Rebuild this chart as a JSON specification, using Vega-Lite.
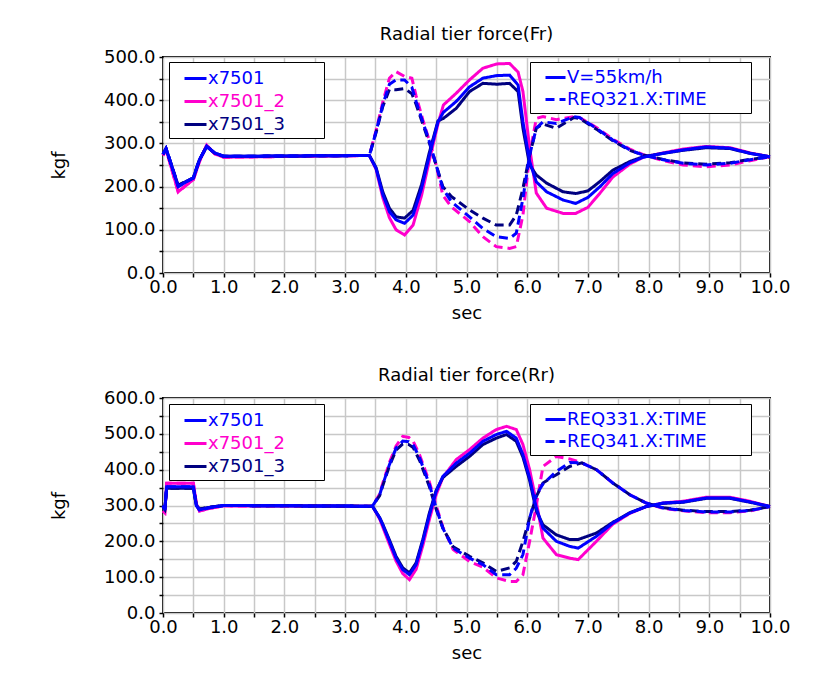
{
"$schema":"https://vega.github.io/schema/vega-lite/v6.json",
"background":"white",
"padding":{"left":49,"top":25,"right":0,"bottom":0},
"config":{
 "font":"DejaVu Sans",
 "view":{"stroke":"black","strokeWidth":2},
 "axis":{"labelFont":"DejaVu Sans","labelFontSize":18,"labelColor":"black","titleFont":"DejaVu Sans","titleFontSize":18,"titleFontWeight":"normal","titleColor":"black","gridColor":"#c8c8c8","gridWidth":1.5,"domain":false,"tickColor":"black","tickWidth":1.5,"tickSize":4,"labelFlush":false,"labelOverlap":false},
 "title":{"font":"DejaVu Sans","fontSize":18,"fontWeight":"normal","color":"black","anchor":"middle","offset":4},
 "legend":{"labelFont":"DejaVu Sans","labelFontSize":18,"fillColor":"white","strokeColor":"black","padding":4,"title":null,"labelLimit":400},
 "concat":{"spacing":43}
},
"datasets":{
"fr":[
{"c":"x7501_2","w":"L","t":0,"v":272},{"c":"x7501_2","w":"L","t":0.05,"v":286},{"c":"x7501_2","w":"L","t":0.12,"v":252},{"c":"x7501_2","w":"L","t":0.25,"v":188},{"c":"x7501_2","w":"L","t":0.38,"v":203},{"c":"x7501_2","w":"L","t":0.5,"v":216},{"c":"x7501_2","w":"L","t":0.6,"v":258},{"c":"x7501_2","w":"L","t":0.72,"v":296},{"c":"x7501_2","w":"L","t":0.85,"v":276},{"c":"x7501_2","w":"L","t":1,"v":268},
{"c":"x7501_2","w":"L","t":3.4,"v":272},{"c":"x7501_2","w":"L","t":3.51,"v":240},{"c":"x7501_2","w":"L","t":3.62,"v":175},{"c":"x7501_2","w":"L","t":3.73,"v":128},{"c":"x7501_2","w":"L","t":3.84,"v":100},{"c":"x7501_2","w":"L","t":3.98,"v":88},{"c":"x7501_2","w":"L","t":4.12,"v":111},{"c":"x7501_2","w":"L","t":4.26,"v":180},{"c":"x7501_2","w":"L","t":4.39,"v":262},{"c":"x7501_2","w":"L","t":4.53,"v":345},{"c":"x7501_2","w":"L","t":4.62,"v":389},{"c":"x7501_2","w":"L","t":4.83,"v":416},{"c":"x7501_2","w":"L","t":5.05,"v":447},{"c":"x7501_2","w":"L","t":5.27,"v":474},{"c":"x7501_2","w":"L","t":5.5,"v":484},{"c":"x7501_2","w":"L","t":5.71,"v":485},{"c":"x7501_2","w":"L","t":5.85,"v":465},{"c":"x7501_2","w":"L","t":5.93,"v":420},{"c":"x7501_2","w":"L","t":6.04,"v":290},{"c":"x7501_2","w":"L","t":6.15,"v":185},{"c":"x7501_2","w":"L","t":6.32,"v":150},{"c":"x7501_2","w":"L","t":6.59,"v":138},{"c":"x7501_2","w":"L","t":6.8,"v":138},{"c":"x7501_2","w":"L","t":7,"v":152},{"c":"x7501_2","w":"L","t":7.2,"v":185},{"c":"x7501_2","w":"L","t":7.41,"v":222},{"c":"x7501_2","w":"L","t":7.69,"v":252},{"c":"x7501_2","w":"L","t":7.91,"v":268},{"c":"x7501_2","w":"L","t":8.24,"v":278},{"c":"x7501_2","w":"L","t":8.57,"v":287},{"c":"x7501_2","w":"L","t":8.95,"v":293},{"c":"x7501_2","w":"L","t":9.34,"v":290},{"c":"x7501_2","w":"L","t":9.67,"v":278},{"c":"x7501_2","w":"L","t":10,"v":269},
{"c":"x7501_2","w":"R","t":0,"v":272},{"c":"x7501_2","w":"R","t":0.05,"v":286},{"c":"x7501_2","w":"R","t":0.12,"v":252},{"c":"x7501_2","w":"R","t":0.25,"v":188},{"c":"x7501_2","w":"R","t":0.38,"v":203},{"c":"x7501_2","w":"R","t":0.5,"v":216},{"c":"x7501_2","w":"R","t":0.6,"v":258},{"c":"x7501_2","w":"R","t":0.72,"v":296},{"c":"x7501_2","w":"R","t":0.85,"v":276},{"c":"x7501_2","w":"R","t":1,"v":268},
{"c":"x7501_2","w":"R","t":3.4,"v":272},{"c":"x7501_2","w":"R","t":3.51,"v":330},{"c":"x7501_2","w":"R","t":3.62,"v":395},{"c":"x7501_2","w":"R","t":3.73,"v":451},{"c":"x7501_2","w":"R","t":3.84,"v":466},{"c":"x7501_2","w":"R","t":3.98,"v":455},{"c":"x7501_2","w":"R","t":4.1,"v":451},{"c":"x7501_2","w":"R","t":4.17,"v":410},{"c":"x7501_2","w":"R","t":4.28,"v":355},{"c":"x7501_2","w":"R","t":4.39,"v":305},{"c":"x7501_2","w":"R","t":4.5,"v":250},{"c":"x7501_2","w":"R","t":4.61,"v":180},{"c":"x7501_2","w":"R","t":4.75,"v":153},{"c":"x7501_2","w":"R","t":5.05,"v":119},{"c":"x7501_2","w":"R","t":5.27,"v":84},{"c":"x7501_2","w":"R","t":5.49,"v":61},{"c":"x7501_2","w":"R","t":5.71,"v":57},{"c":"x7501_2","w":"R","t":5.82,"v":61},{"c":"x7501_2","w":"R","t":5.93,"v":134},{"c":"x7501_2","w":"R","t":6.04,"v":273},{"c":"x7501_2","w":"R","t":6.15,"v":358},{"c":"x7501_2","w":"R","t":6.26,"v":362},{"c":"x7501_2","w":"R","t":6.48,"v":355},{"c":"x7501_2","w":"R","t":6.77,"v":362},{"c":"x7501_2","w":"R","t":6.86,"v":360},{"c":"x7501_2","w":"R","t":7.14,"v":337},{"c":"x7501_2","w":"R","t":7.41,"v":310},{"c":"x7501_2","w":"R","t":7.69,"v":287},{"c":"x7501_2","w":"R","t":7.91,"v":274},{"c":"x7501_2","w":"R","t":8.24,"v":260},{"c":"x7501_2","w":"R","t":8.57,"v":250},{"c":"x7501_2","w":"R","t":8.95,"v":246},{"c":"x7501_2","w":"R","t":9.34,"v":250},{"c":"x7501_2","w":"R","t":9.67,"v":260},{"c":"x7501_2","w":"R","t":10,"v":269},
{"c":"x7501_3","w":"L","t":0,"v":275},{"c":"x7501_3","w":"L","t":0.05,"v":288},{"c":"x7501_3","w":"L","t":0.12,"v":258},{"c":"x7501_3","w":"L","t":0.25,"v":203},{"c":"x7501_3","w":"L","t":0.38,"v":212},{"c":"x7501_3","w":"L","t":0.5,"v":220},{"c":"x7501_3","w":"L","t":0.6,"v":262},{"c":"x7501_3","w":"L","t":0.72,"v":293},{"c":"x7501_3","w":"L","t":0.85,"v":278},{"c":"x7501_3","w":"L","t":1,"v":270},
{"c":"x7501_3","w":"L","t":3.4,"v":272},{"c":"x7501_3","w":"L","t":3.51,"v":244},{"c":"x7501_3","w":"L","t":3.62,"v":188},{"c":"x7501_3","w":"L","t":3.73,"v":150},{"c":"x7501_3","w":"L","t":3.84,"v":130},{"c":"x7501_3","w":"L","t":3.98,"v":127},{"c":"x7501_3","w":"L","t":4.12,"v":145},{"c":"x7501_3","w":"L","t":4.26,"v":205},{"c":"x7501_3","w":"L","t":4.39,"v":280},{"c":"x7501_3","w":"L","t":4.53,"v":352},{"c":"x7501_3","w":"L","t":4.62,"v":358},{"c":"x7501_3","w":"L","t":4.83,"v":381},{"c":"x7501_3","w":"L","t":5.05,"v":420},{"c":"x7501_3","w":"L","t":5.27,"v":439},{"c":"x7501_3","w":"L","t":5.5,"v":437},{"c":"x7501_3","w":"L","t":5.71,"v":439},{"c":"x7501_3","w":"L","t":5.85,"v":420},{"c":"x7501_3","w":"L","t":5.93,"v":335},{"c":"x7501_3","w":"L","t":6.04,"v":250},{"c":"x7501_3","w":"L","t":6.15,"v":227},{"c":"x7501_3","w":"L","t":6.32,"v":208},{"c":"x7501_3","w":"L","t":6.59,"v":188},{"c":"x7501_3","w":"L","t":6.8,"v":184},{"c":"x7501_3","w":"L","t":7,"v":190},{"c":"x7501_3","w":"L","t":7.2,"v":212},{"c":"x7501_3","w":"L","t":7.41,"v":238},{"c":"x7501_3","w":"L","t":7.69,"v":258},{"c":"x7501_3","w":"L","t":7.91,"v":269},{"c":"x7501_3","w":"L","t":8.24,"v":277},{"c":"x7501_3","w":"L","t":8.57,"v":284},{"c":"x7501_3","w":"L","t":8.95,"v":290},{"c":"x7501_3","w":"L","t":9.34,"v":288},{"c":"x7501_3","w":"L","t":9.67,"v":277},{"c":"x7501_3","w":"L","t":10,"v":269},
{"c":"x7501_3","w":"R","t":0,"v":275},{"c":"x7501_3","w":"R","t":0.05,"v":288},{"c":"x7501_3","w":"R","t":0.12,"v":258},{"c":"x7501_3","w":"R","t":0.25,"v":203},{"c":"x7501_3","w":"R","t":0.38,"v":212},{"c":"x7501_3","w":"R","t":0.5,"v":220},{"c":"x7501_3","w":"R","t":0.6,"v":262},{"c":"x7501_3","w":"R","t":0.72,"v":293},{"c":"x7501_3","w":"R","t":0.85,"v":278},{"c":"x7501_3","w":"R","t":1,"v":270},
{"c":"x7501_3","w":"R","t":3.4,"v":272},{"c":"x7501_3","w":"R","t":3.51,"v":325},{"c":"x7501_3","w":"R","t":3.62,"v":385},{"c":"x7501_3","w":"R","t":3.73,"v":425},{"c":"x7501_3","w":"R","t":3.84,"v":424},{"c":"x7501_3","w":"R","t":3.98,"v":427},{"c":"x7501_3","w":"R","t":4.1,"v":415},{"c":"x7501_3","w":"R","t":4.17,"v":390},{"c":"x7501_3","w":"R","t":4.28,"v":345},{"c":"x7501_3","w":"R","t":4.39,"v":300},{"c":"x7501_3","w":"R","t":4.5,"v":250},{"c":"x7501_3","w":"R","t":4.61,"v":200},{"c":"x7501_3","w":"R","t":4.75,"v":177},{"c":"x7501_3","w":"R","t":5.05,"v":146},{"c":"x7501_3","w":"R","t":5.27,"v":127},{"c":"x7501_3","w":"R","t":5.49,"v":111},{"c":"x7501_3","w":"R","t":5.71,"v":111},{"c":"x7501_3","w":"R","t":5.82,"v":134},{"c":"x7501_3","w":"R","t":5.93,"v":196},{"c":"x7501_3","w":"R","t":6.04,"v":273},{"c":"x7501_3","w":"R","t":6.15,"v":335},{"c":"x7501_3","w":"R","t":6.26,"v":345},{"c":"x7501_3","w":"R","t":6.48,"v":335},{"c":"x7501_3","w":"R","t":6.77,"v":360},{"c":"x7501_3","w":"R","t":6.86,"v":358},{"c":"x7501_3","w":"R","t":7.14,"v":333},{"c":"x7501_3","w":"R","t":7.41,"v":306},{"c":"x7501_3","w":"R","t":7.69,"v":284},{"c":"x7501_3","w":"R","t":7.91,"v":273},{"c":"x7501_3","w":"R","t":8.24,"v":263},{"c":"x7501_3","w":"R","t":8.57,"v":255},{"c":"x7501_3","w":"R","t":8.95,"v":252},{"c":"x7501_3","w":"R","t":9.34,"v":255},{"c":"x7501_3","w":"R","t":9.67,"v":263},{"c":"x7501_3","w":"R","t":10,"v":269},
{"c":"x7501","w":"L","t":0,"v":275},{"c":"x7501","w":"L","t":0.05,"v":288},{"c":"x7501","w":"L","t":0.12,"v":258},{"c":"x7501","w":"L","t":0.25,"v":200},{"c":"x7501","w":"L","t":0.38,"v":211},{"c":"x7501","w":"L","t":0.5,"v":220},{"c":"x7501","w":"L","t":0.6,"v":262},{"c":"x7501","w":"L","t":0.72,"v":293},{"c":"x7501","w":"L","t":0.85,"v":278},{"c":"x7501","w":"L","t":1,"v":270},
{"c":"x7501","w":"L","t":3.4,"v":272},{"c":"x7501","w":"L","t":3.51,"v":242},{"c":"x7501","w":"L","t":3.62,"v":182},{"c":"x7501","w":"L","t":3.73,"v":142},{"c":"x7501","w":"L","t":3.84,"v":123},{"c":"x7501","w":"L","t":3.98,"v":115},{"c":"x7501","w":"L","t":4.12,"v":134},{"c":"x7501","w":"L","t":4.26,"v":196},{"c":"x7501","w":"L","t":4.39,"v":273},{"c":"x7501","w":"L","t":4.53,"v":350},{"c":"x7501","w":"L","t":4.62,"v":372},{"c":"x7501","w":"L","t":4.83,"v":397},{"c":"x7501","w":"L","t":5.05,"v":431},{"c":"x7501","w":"L","t":5.27,"v":451},{"c":"x7501","w":"L","t":5.5,"v":457},{"c":"x7501","w":"L","t":5.71,"v":458},{"c":"x7501","w":"L","t":5.85,"v":435},{"c":"x7501","w":"L","t":5.93,"v":350},{"c":"x7501","w":"L","t":6.04,"v":258},{"c":"x7501","w":"L","t":6.15,"v":211},{"c":"x7501","w":"L","t":6.32,"v":188},{"c":"x7501","w":"L","t":6.59,"v":169},{"c":"x7501","w":"L","t":6.8,"v":161},{"c":"x7501","w":"L","t":7,"v":175},{"c":"x7501","w":"L","t":7.2,"v":200},{"c":"x7501","w":"L","t":7.41,"v":230},{"c":"x7501","w":"L","t":7.69,"v":255},{"c":"x7501","w":"L","t":7.91,"v":268},{"c":"x7501","w":"L","t":8.24,"v":277},{"c":"x7501","w":"L","t":8.57,"v":285},{"c":"x7501","w":"L","t":8.95,"v":292},{"c":"x7501","w":"L","t":9.34,"v":289},{"c":"x7501","w":"L","t":9.67,"v":277},{"c":"x7501","w":"L","t":10,"v":269},
{"c":"x7501","w":"R","t":0,"v":275},{"c":"x7501","w":"R","t":0.05,"v":288},{"c":"x7501","w":"R","t":0.12,"v":258},{"c":"x7501","w":"R","t":0.25,"v":200},{"c":"x7501","w":"R","t":0.38,"v":211},{"c":"x7501","w":"R","t":0.5,"v":220},{"c":"x7501","w":"R","t":0.6,"v":262},{"c":"x7501","w":"R","t":0.72,"v":293},{"c":"x7501","w":"R","t":0.85,"v":278},{"c":"x7501","w":"R","t":1,"v":270},
{"c":"x7501","w":"R","t":3.4,"v":272},{"c":"x7501","w":"R","t":3.51,"v":327},{"c":"x7501","w":"R","t":3.62,"v":389},{"c":"x7501","w":"R","t":3.73,"v":437},{"c":"x7501","w":"R","t":3.84,"v":447},{"c":"x7501","w":"R","t":3.98,"v":447},{"c":"x7501","w":"R","t":4.1,"v":430},{"c":"x7501","w":"R","t":4.17,"v":397},{"c":"x7501","w":"R","t":4.28,"v":350},{"c":"x7501","w":"R","t":4.39,"v":304},{"c":"x7501","w":"R","t":4.5,"v":250},{"c":"x7501","w":"R","t":4.61,"v":196},{"c":"x7501","w":"R","t":4.75,"v":165},{"c":"x7501","w":"R","t":5.05,"v":130},{"c":"x7501","w":"R","t":5.27,"v":103},{"c":"x7501","w":"R","t":5.49,"v":84},{"c":"x7501","w":"R","t":5.71,"v":80},{"c":"x7501","w":"R","t":5.82,"v":92},{"c":"x7501","w":"R","t":5.93,"v":173},{"c":"x7501","w":"R","t":6.04,"v":273},{"c":"x7501","w":"R","t":6.15,"v":335},{"c":"x7501","w":"R","t":6.26,"v":350},{"c":"x7501","w":"R","t":6.48,"v":346},{"c":"x7501","w":"R","t":6.77,"v":362},{"c":"x7501","w":"R","t":6.86,"v":360},{"c":"x7501","w":"R","t":7.14,"v":335},{"c":"x7501","w":"R","t":7.41,"v":308},{"c":"x7501","w":"R","t":7.69,"v":285},{"c":"x7501","w":"R","t":7.91,"v":273},{"c":"x7501","w":"R","t":8.24,"v":262},{"c":"x7501","w":"R","t":8.57,"v":254},{"c":"x7501","w":"R","t":8.95,"v":250},{"c":"x7501","w":"R","t":9.34,"v":254},{"c":"x7501","w":"R","t":9.67,"v":262},{"c":"x7501","w":"R","t":10,"v":269}
],
"rr":[
{"c":"x7501_2","w":"L","t":0,"v":285},{"c":"x7501_2","w":"L","t":0.03,"v":280},{"c":"x7501_2","w":"L","t":0.06,"v":362},{"c":"x7501_2","w":"L","t":0.5,"v":362},{"c":"x7501_2","w":"L","t":0.55,"v":305},{"c":"x7501_2","w":"L","t":0.6,"v":285},{"c":"x7501_2","w":"L","t":0.8,"v":293},{"c":"x7501_2","w":"L","t":1,"v":299},
{"c":"x7501_2","w":"L","t":3.45,"v":298},{"c":"x7501_2","w":"L","t":3.57,"v":262},{"c":"x7501_2","w":"L","t":3.62,"v":240},{"c":"x7501_2","w":"L","t":3.73,"v":192},{"c":"x7501_2","w":"L","t":3.84,"v":145},{"c":"x7501_2","w":"L","t":3.95,"v":110},{"c":"x7501_2","w":"L","t":4.06,"v":93},{"c":"x7501_2","w":"L","t":4.17,"v":122},{"c":"x7501_2","w":"L","t":4.28,"v":188},{"c":"x7501_2","w":"L","t":4.39,"v":262},{"c":"x7501_2","w":"L","t":4.5,"v":330},{"c":"x7501_2","w":"L","t":4.61,"v":378},{"c":"x7501_2","w":"L","t":4.83,"v":428},{"c":"x7501_2","w":"L","t":5.05,"v":456},{"c":"x7501_2","w":"L","t":5.27,"v":488},{"c":"x7501_2","w":"L","t":5.49,"v":512},{"c":"x7501_2","w":"L","t":5.66,"v":521},{"c":"x7501_2","w":"L","t":5.82,"v":512},{"c":"x7501_2","w":"L","t":5.93,"v":470},{"c":"x7501_2","w":"L","t":6.04,"v":400},{"c":"x7501_2","w":"L","t":6.15,"v":310},{"c":"x7501_2","w":"L","t":6.26,"v":209},{"c":"x7501_2","w":"L","t":6.48,"v":163},{"c":"x7501_2","w":"L","t":6.7,"v":153},{"c":"x7501_2","w":"L","t":6.84,"v":149},{"c":"x7501_2","w":"L","t":7.14,"v":200},{"c":"x7501_2","w":"L","t":7.41,"v":248},{"c":"x7501_2","w":"L","t":7.69,"v":278},{"c":"x7501_2","w":"L","t":7.96,"v":297},{"c":"x7501_2","w":"L","t":8.24,"v":307},{"c":"x7501_2","w":"L","t":8.57,"v":312},{"c":"x7501_2","w":"L","t":8.95,"v":323},{"c":"x7501_2","w":"L","t":9.34,"v":323},{"c":"x7501_2","w":"L","t":9.67,"v":312},{"c":"x7501_2","w":"L","t":10,"v":297},
{"c":"x7501_2","w":"R","t":0,"v":285},{"c":"x7501_2","w":"R","t":0.03,"v":280},{"c":"x7501_2","w":"R","t":0.06,"v":362},{"c":"x7501_2","w":"R","t":0.5,"v":362},{"c":"x7501_2","w":"R","t":0.55,"v":305},{"c":"x7501_2","w":"R","t":0.6,"v":285},{"c":"x7501_2","w":"R","t":0.8,"v":293},{"c":"x7501_2","w":"R","t":1,"v":299},
{"c":"x7501_2","w":"R","t":3.45,"v":298},{"c":"x7501_2","w":"R","t":3.57,"v":332},{"c":"x7501_2","w":"R","t":3.62,"v":362},{"c":"x7501_2","w":"R","t":3.73,"v":420},{"c":"x7501_2","w":"R","t":3.84,"v":466},{"c":"x7501_2","w":"R","t":3.95,"v":493},{"c":"x7501_2","w":"R","t":4.05,"v":490},{"c":"x7501_2","w":"R","t":4.12,"v":480},{"c":"x7501_2","w":"R","t":4.23,"v":440},{"c":"x7501_2","w":"R","t":4.39,"v":365},{"c":"x7501_2","w":"R","t":4.5,"v":300},{"c":"x7501_2","w":"R","t":4.61,"v":240},{"c":"x7501_2","w":"R","t":4.78,"v":177},{"c":"x7501_2","w":"R","t":5.05,"v":144},{"c":"x7501_2","w":"R","t":5.27,"v":128},{"c":"x7501_2","w":"R","t":5.49,"v":98},{"c":"x7501_2","w":"R","t":5.71,"v":88},{"c":"x7501_2","w":"R","t":5.82,"v":88},{"c":"x7501_2","w":"R","t":5.93,"v":107},{"c":"x7501_2","w":"R","t":6.04,"v":200},{"c":"x7501_2","w":"R","t":6.15,"v":300},{"c":"x7501_2","w":"R","t":6.26,"v":409},{"c":"x7501_2","w":"R","t":6.48,"v":437},{"c":"x7501_2","w":"R","t":6.7,"v":430},{"c":"x7501_2","w":"R","t":6.9,"v":419},{"c":"x7501_2","w":"R","t":7.14,"v":400},{"c":"x7501_2","w":"R","t":7.41,"v":363},{"c":"x7501_2","w":"R","t":7.69,"v":330},{"c":"x7501_2","w":"R","t":7.96,"v":307},{"c":"x7501_2","w":"R","t":8.24,"v":292},{"c":"x7501_2","w":"R","t":8.57,"v":285},{"c":"x7501_2","w":"R","t":8.95,"v":280},{"c":"x7501_2","w":"R","t":9.34,"v":280},{"c":"x7501_2","w":"R","t":9.67,"v":285},{"c":"x7501_2","w":"R","t":10,"v":297},
{"c":"x7501_3","w":"L","t":0,"v":298},{"c":"x7501_3","w":"L","t":0.03,"v":290},{"c":"x7501_3","w":"L","t":0.06,"v":348},{"c":"x7501_3","w":"L","t":0.5,"v":348},{"c":"x7501_3","w":"L","t":0.55,"v":300},{"c":"x7501_3","w":"L","t":0.6,"v":290},{"c":"x7501_3","w":"L","t":0.8,"v":296},{"c":"x7501_3","w":"L","t":1,"v":300},
{"c":"x7501_3","w":"L","t":3.45,"v":298},{"c":"x7501_3","w":"L","t":3.57,"v":266},{"c":"x7501_3","w":"L","t":3.62,"v":248},{"c":"x7501_3","w":"L","t":3.73,"v":204},{"c":"x7501_3","w":"L","t":3.84,"v":158},{"c":"x7501_3","w":"L","t":3.95,"v":126},{"c":"x7501_3","w":"L","t":4.06,"v":112},{"c":"x7501_3","w":"L","t":4.17,"v":140},{"c":"x7501_3","w":"L","t":4.28,"v":205},{"c":"x7501_3","w":"L","t":4.39,"v":280},{"c":"x7501_3","w":"L","t":4.5,"v":342},{"c":"x7501_3","w":"L","t":4.61,"v":378},{"c":"x7501_3","w":"L","t":4.83,"v":409},{"c":"x7501_3","w":"L","t":5.05,"v":437},{"c":"x7501_3","w":"L","t":5.27,"v":470},{"c":"x7501_3","w":"L","t":5.49,"v":488},{"c":"x7501_3","w":"L","t":5.66,"v":498},{"c":"x7501_3","w":"L","t":5.82,"v":479},{"c":"x7501_3","w":"L","t":5.93,"v":435},{"c":"x7501_3","w":"L","t":6.04,"v":370},{"c":"x7501_3","w":"L","t":6.15,"v":285},{"c":"x7501_3","w":"L","t":6.26,"v":246},{"c":"x7501_3","w":"L","t":6.48,"v":218},{"c":"x7501_3","w":"L","t":6.7,"v":205},{"c":"x7501_3","w":"L","t":6.84,"v":205},{"c":"x7501_3","w":"L","t":7.14,"v":223},{"c":"x7501_3","w":"L","t":7.41,"v":253},{"c":"x7501_3","w":"L","t":7.69,"v":280},{"c":"x7501_3","w":"L","t":7.96,"v":297},{"c":"x7501_3","w":"L","t":8.24,"v":306},{"c":"x7501_3","w":"L","t":8.57,"v":309},{"c":"x7501_3","w":"L","t":8.95,"v":320},{"c":"x7501_3","w":"L","t":9.34,"v":320},{"c":"x7501_3","w":"L","t":9.67,"v":309},{"c":"x7501_3","w":"L","t":10,"v":297},
{"c":"x7501_3","w":"R","t":0,"v":298},{"c":"x7501_3","w":"R","t":0.03,"v":290},{"c":"x7501_3","w":"R","t":0.06,"v":348},{"c":"x7501_3","w":"R","t":0.5,"v":348},{"c":"x7501_3","w":"R","t":0.55,"v":300},{"c":"x7501_3","w":"R","t":0.6,"v":290},{"c":"x7501_3","w":"R","t":0.8,"v":296},{"c":"x7501_3","w":"R","t":1,"v":300},
{"c":"x7501_3","w":"R","t":3.45,"v":298},{"c":"x7501_3","w":"R","t":3.57,"v":328},{"c":"x7501_3","w":"R","t":3.62,"v":355},{"c":"x7501_3","w":"R","t":3.73,"v":410},{"c":"x7501_3","w":"R","t":3.84,"v":455},{"c":"x7501_3","w":"R","t":3.95,"v":472},{"c":"x7501_3","w":"R","t":4.05,"v":470},{"c":"x7501_3","w":"R","t":4.12,"v":462},{"c":"x7501_3","w":"R","t":4.23,"v":425},{"c":"x7501_3","w":"R","t":4.39,"v":352},{"c":"x7501_3","w":"R","t":4.5,"v":290},{"c":"x7501_3","w":"R","t":4.61,"v":237},{"c":"x7501_3","w":"R","t":4.78,"v":185},{"c":"x7501_3","w":"R","t":5.05,"v":158},{"c":"x7501_3","w":"R","t":5.27,"v":140},{"c":"x7501_3","w":"R","t":5.49,"v":116},{"c":"x7501_3","w":"R","t":5.71,"v":126},{"c":"x7501_3","w":"R","t":5.82,"v":144},{"c":"x7501_3","w":"R","t":5.93,"v":200},{"c":"x7501_3","w":"R","t":6.04,"v":265},{"c":"x7501_3","w":"R","t":6.15,"v":325},{"c":"x7501_3","w":"R","t":6.26,"v":363},{"c":"x7501_3","w":"R","t":6.48,"v":386},{"c":"x7501_3","w":"R","t":6.7,"v":409},{"c":"x7501_3","w":"R","t":6.9,"v":419},{"c":"x7501_3","w":"R","t":7.14,"v":400},{"c":"x7501_3","w":"R","t":7.41,"v":363},{"c":"x7501_3","w":"R","t":7.69,"v":330},{"c":"x7501_3","w":"R","t":7.96,"v":307},{"c":"x7501_3","w":"R","t":8.24,"v":294},{"c":"x7501_3","w":"R","t":8.57,"v":287},{"c":"x7501_3","w":"R","t":8.95,"v":283},{"c":"x7501_3","w":"R","t":9.34,"v":283},{"c":"x7501_3","w":"R","t":9.67,"v":287},{"c":"x7501_3","w":"R","t":10,"v":297},
{"c":"x7501","w":"L","t":0,"v":300},{"c":"x7501","w":"L","t":0.03,"v":288},{"c":"x7501","w":"L","t":0.06,"v":352},{"c":"x7501","w":"L","t":0.5,"v":352},{"c":"x7501","w":"L","t":0.55,"v":300},{"c":"x7501","w":"L","t":0.6,"v":288},{"c":"x7501","w":"L","t":0.8,"v":295},{"c":"x7501","w":"L","t":1,"v":300},
{"c":"x7501","w":"L","t":3.45,"v":298},{"c":"x7501","w":"L","t":3.57,"v":265},{"c":"x7501","w":"L","t":3.62,"v":246},{"c":"x7501","w":"L","t":3.73,"v":200},{"c":"x7501","w":"L","t":3.84,"v":153},{"c":"x7501","w":"L","t":3.95,"v":121},{"c":"x7501","w":"L","t":4.06,"v":107},{"c":"x7501","w":"L","t":4.17,"v":135},{"c":"x7501","w":"L","t":4.28,"v":200},{"c":"x7501","w":"L","t":4.39,"v":274},{"c":"x7501","w":"L","t":4.5,"v":339},{"c":"x7501","w":"L","t":4.61,"v":381},{"c":"x7501","w":"L","t":4.83,"v":418},{"c":"x7501","w":"L","t":5.05,"v":446},{"c":"x7501","w":"L","t":5.27,"v":479},{"c":"x7501","w":"L","t":5.49,"v":498},{"c":"x7501","w":"L","t":5.66,"v":507},{"c":"x7501","w":"L","t":5.82,"v":488},{"c":"x7501","w":"L","t":5.93,"v":442},{"c":"x7501","w":"L","t":6.04,"v":377},{"c":"x7501","w":"L","t":6.15,"v":293},{"c":"x7501","w":"L","t":6.26,"v":237},{"c":"x7501","w":"L","t":6.48,"v":200},{"c":"x7501","w":"L","t":6.7,"v":186},{"c":"x7501","w":"L","t":6.84,"v":181},{"c":"x7501","w":"L","t":7.14,"v":214},{"c":"x7501","w":"L","t":7.41,"v":251},{"c":"x7501","w":"L","t":7.69,"v":279},{"c":"x7501","w":"L","t":7.96,"v":297},{"c":"x7501","w":"L","t":8.24,"v":307},{"c":"x7501","w":"L","t":8.57,"v":310},{"c":"x7501","w":"L","t":8.95,"v":321},{"c":"x7501","w":"L","t":9.34,"v":321},{"c":"x7501","w":"L","t":9.67,"v":310},{"c":"x7501","w":"L","t":10,"v":297},
{"c":"x7501","w":"R","t":0,"v":300},{"c":"x7501","w":"R","t":0.03,"v":288},{"c":"x7501","w":"R","t":0.06,"v":352},{"c":"x7501","w":"R","t":0.5,"v":352},{"c":"x7501","w":"R","t":0.55,"v":300},{"c":"x7501","w":"R","t":0.6,"v":288},{"c":"x7501","w":"R","t":0.8,"v":295},{"c":"x7501","w":"R","t":1,"v":300},
{"c":"x7501","w":"R","t":3.45,"v":298},{"c":"x7501","w":"R","t":3.57,"v":330},{"c":"x7501","w":"R","t":3.62,"v":358},{"c":"x7501","w":"R","t":3.73,"v":414},{"c":"x7501","w":"R","t":3.84,"v":460},{"c":"x7501","w":"R","t":3.95,"v":480},{"c":"x7501","w":"R","t":4.05,"v":478},{"c":"x7501","w":"R","t":4.12,"v":470},{"c":"x7501","w":"R","t":4.23,"v":432},{"c":"x7501","w":"R","t":4.39,"v":358},{"c":"x7501","w":"R","t":4.5,"v":293},{"c":"x7501","w":"R","t":4.61,"v":237},{"c":"x7501","w":"R","t":4.78,"v":181},{"c":"x7501","w":"R","t":5.05,"v":153},{"c":"x7501","w":"R","t":5.27,"v":135},{"c":"x7501","w":"R","t":5.49,"v":107},{"c":"x7501","w":"R","t":5.71,"v":107},{"c":"x7501","w":"R","t":5.82,"v":125},{"c":"x7501","w":"R","t":5.93,"v":163},{"c":"x7501","w":"R","t":6.04,"v":265},{"c":"x7501","w":"R","t":6.15,"v":330},{"c":"x7501","w":"R","t":6.26,"v":360},{"c":"x7501","w":"R","t":6.48,"v":395},{"c":"x7501","w":"R","t":6.7,"v":420},{"c":"x7501","w":"R","t":6.9,"v":419},{"c":"x7501","w":"R","t":7.14,"v":400},{"c":"x7501","w":"R","t":7.41,"v":363},{"c":"x7501","w":"R","t":7.69,"v":330},{"c":"x7501","w":"R","t":7.96,"v":307},{"c":"x7501","w":"R","t":8.24,"v":293},{"c":"x7501","w":"R","t":8.57,"v":286},{"c":"x7501","w":"R","t":8.95,"v":282},{"c":"x7501","w":"R","t":9.34,"v":282},{"c":"x7501","w":"R","t":9.67,"v":286},{"c":"x7501","w":"R","t":10,"v":297}
]
},
"vconcat":[
{
 "width":607,"height":216,
 "title":{"text":"Radial tier force(Fr)"},
 "data":{"name":"fr"},
 "mark":{"type":"line","strokeWidth":3},
 "encoding":{
  "x":{"field":"t","type":"quantitative","scale":{"domain":[0,10],"nice":false},"axis":{"title":"sec","values":[0,0.5,1,1.5,2,2.5,3,3.5,4,4.5,5,5.5,6,6.5,7,7.5,8,8.5,9,9.5,10],"labelExpr":"datum.value % 1 === 0 ? format(datum.value, '.1f') : ''","labelPadding":1,"titlePadding":8}},
  "y":{"field":"v","type":"quantitative","scale":{"domain":[0,500],"nice":false},"axis":{"title":"kgf","values":[0,50,100,150,200,250,300,350,400,450,500],"labelExpr":"datum.value % 100 === 0 ? format(datum.value, '.1f') : ''","labelPadding":4,"titlePadding":35}},
  "color":{"field":"c","type":"nominal","scale":{"domain":["x7501","x7501_2","x7501_3"],"range":["#0000ff","#ff00cc","#000080"]},"legend":{"orient":"none","legendX":6,"legendY":5,"symbolType":"stroke","symbolSize":484,"symbolStrokeWidth":3,"symbolOffset":10,"labelOffset":0,"rowPadding":1,"labelColor":{"expr":"datum.value == 'x7501_2' ? '#ff00cc' : datum.value == 'x7501_3' ? '#000080' : '#0000ff'"},"labelExpr":"datum.label + '\u00a0\u00a0\u00a0\u00a0\u00a0\u00a0\u200b'"}},
  "strokeDash":{"field":"w","type":"nominal","scale":{"domain":["L","R"],"range":[[1,0],[9,5]]},"legend":{"orient":"none","legendX":367,"legendY":5,"symbolType":"stroke","symbolSize":400,"symbolStrokeWidth":3,"symbolStrokeColor":"#0000ff","symbolOffset":10,"labelOffset":0,"rowPadding":1,"labelColor":"#0000ff","labelExpr":"(datum.label == 'L' ? 'V=55km/h' : 'REQ321.X:TIME') + '\u00a0\u00a0\u00a0\u00a0\u00a0\u00a0\u00a0\u200b'"}}
 }
},
{
 "width":607,"height":215,
 "title":{"text":"Radial tier force(Rr)"},
 "data":{"name":"rr"},
 "mark":{"type":"line","strokeWidth":3},
 "encoding":{
  "x":{"field":"t","type":"quantitative","scale":{"domain":[0,10],"nice":false},"axis":{"title":"sec","values":[0,0.5,1,1.5,2,2.5,3,3.5,4,4.5,5,5.5,6,6.5,7,7.5,8,8.5,9,9.5,10],"labelExpr":"datum.value % 1 === 0 ? format(datum.value, '.1f') : ''","labelPadding":1,"titlePadding":8}},
  "y":{"field":"v","type":"quantitative","scale":{"domain":[0,600],"nice":false},"axis":{"title":"kgf","values":[0,50,100,150,200,250,300,350,400,450,500,550,600],"labelExpr":"datum.value % 100 === 0 ? format(datum.value, '.1f') : ''","labelPadding":4,"titlePadding":35}},
  "color":{"field":"c","type":"nominal","scale":{"domain":["x7501","x7501_2","x7501_3"],"range":["#0000ff","#ff00cc","#000080"]},"legend":{"orient":"none","legendX":6,"legendY":6,"symbolType":"stroke","symbolSize":484,"symbolStrokeWidth":3,"symbolOffset":10,"labelOffset":0,"rowPadding":1,"labelColor":{"expr":"datum.value == 'x7501_2' ? '#ff00cc' : datum.value == 'x7501_3' ? '#000080' : '#0000ff'"},"labelExpr":"datum.label + '\u00a0\u00a0\u00a0\u00a0\u00a0\u00a0\u200b'"}},
  "strokeDash":{"field":"w","type":"nominal","scale":{"domain":["L","R"],"range":[[1,0],[9,5]]},"legend":{"orient":"none","legendX":367,"legendY":6,"symbolType":"stroke","symbolSize":400,"symbolStrokeWidth":3,"symbolStrokeColor":"#0000ff","symbolOffset":10,"labelOffset":0,"rowPadding":1,"labelColor":"#0000ff","labelExpr":"(datum.label == 'L' ? 'REQ331.X:TIME' : 'REQ341.X:TIME') + '\u00a0\u00a0\u00a0\u00a0\u00a0\u00a0\u00a0\u200b'"}}
 }
}
],
"resolve":{"scale":{"color":"independent","strokeDash":"independent","y":"independent"},"legend":{"color":"independent","strokeDash":"independent"}}
}
